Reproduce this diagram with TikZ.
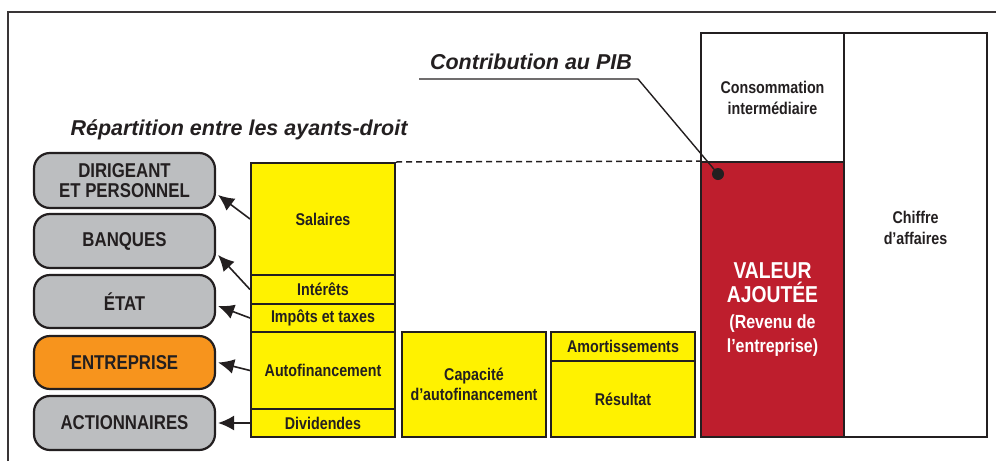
\documentclass[tikz,border=0pt]{standalone}
\usepackage{fontspec}
\setmainfont{Liberation Sans}
\newfontfamily\narrowsf{Liberation Sans}[FakeStretch=0.84]
\usetikzlibrary{arrows.meta}

\definecolor{vaRed}{HTML}{BE1E2D}
\definecolor{entOrange}{HTML}{F7941D}
\definecolor{boxGray}{HTML}{BCBEC0}
\definecolor{boxYellow}{HTML}{FFF200}
\definecolor{inkDark}{HTML}{231F20}

\begin{document}
\begin{tikzpicture}[x=1pt,y=-1pt,
  ayant/.style={draw=inkDark,line width=2.2pt,rounded corners=16pt,fill=boxGray,
    minimum width=181pt,minimum height=54pt,inner sep=0pt,align=center,text=inkDark,
    font=\narrowsf\bfseries\fontsize{20}{20}\selectfont},
  part/.style={draw=inkDark,line width=2pt,fill=boxYellow,minimum width=144pt,
    inner sep=0pt,align=center,text=inkDark,font=\narrowsf\bfseries\fontsize{17}{20}\selectfont},
  col/.style={draw=inkDark,line width=2pt,minimum width=143pt,inner sep=0pt,
    align=center,text=inkDark,font=\narrowsf\bfseries\fontsize{17}{21}\selectfont},
  flow/.style={draw=inkDark,line width=1.6pt,-{Latex[length=16pt,width=15pt]}},
  titre/.style={text=inkDark,font=\bfseries\itshape\fontsize{21.5}{21}\selectfont}]

  \useasboundingbox (0,0) rectangle (996,461);
  \draw[draw=inkDark!90,line width=2pt] (8,461) -- (8,12) -- (996,12);

  % Ayants-droit

  \node[titre] (repart) at (239,130) {Répartition entre les ayants-droit};

  \node[ayant,minimum height=55pt] (dirigeant) at (124.5,180.5) {DIRIGEANT\\ET PERSONNEL};
  \node[ayant] (banques) at (124.5,241) {BANQUES};
  \node[ayant,minimum height=53pt] (etat) at (124.5,301.5) {ÉTAT};
  \node[ayant,minimum height=53pt,fill=entOrange] (entreprise) at (124.5,362.5) {ENTREPRISE};
  \node[ayant] (actionnaires) at (124.5,423) {ACTIONNAIRES};

  % Repartition de la valeur ajoutee

  \node[part,minimum height=112pt] (salaires) at (323,219) {Salaires};
  \node[part,minimum height=29pt] (interets) at (323,289.5) {Intérêts};
  \node[part,minimum height=28pt] (impots) at (323,318) {Impôts et taxes};
  \node[part,minimum height=77pt] (autofin) at (323,370.5) {Autofinancement};
  \node[part,minimum height=28pt] (dividendes) at (323,423) {Dividendes};

  \draw[flow] (salaires.west) to ([shift={(2,14.5)}]dirigeant.east);
  \draw[flow] (interets.west) to ([shift={(2,14)}]banques.east);
  \draw[flow] (impots.west) to ([shift={(2,4.5)}]etat.east);
  \draw[flow] (autofin.west) to ([shift={(2,0)}]entreprise.east);
  \draw[flow] (dividendes.west) to ([shift={(2,0)}]actionnaires.east);

  \node[part,minimum height=105pt] (caf) at (474,384.5) {Capacité\\d’autofinancement};

  \node[part,minimum height=29pt] (amort) at (623,346.5) {Amortissements};
  \node[part,minimum height=76pt] (resultat) at (623,399) {Résultat};

  % Chiffre d'affaires

  \node[col,minimum height=404pt] (ca) at (915.5,235) {Chiffre\\d’affaires\\[-7pt]};
  \node[col,minimum height=129pt] (ci) at (772.5,97.5) {Consommation\\intermédiaire};
  \node[col,minimum height=275pt,fill=vaRed,text=white,font=\narrowsf\bfseries\fontsize{23}{24}\selectfont] (va) at (772.5,299.5)
    {\rule{0pt}{36pt}VALEUR\\AJOUTÉE\\[2pt]\fontsize{19}{22}\selectfont(Revenu de\\\fontsize{19}{22}\selectfont l’entreprise)};

  \draw[draw=inkDark,line width=1.5pt,dash pattern=on 6pt off 4pt] (salaires.north east) to (va.north west);

  % PIB

  \node[titre] (pib) at (531,62) {Contribution au PIB};
  \coordinate (pibA) at (419,79);
  \coordinate (pibB) at (638,79);
  \node[circle,fill=inkDark,inner sep=0pt,minimum size=12pt] (dot) at (718,174) {};
  \draw[draw=inkDark,line width=1.4pt] (pibA) -- (pibB) -- (dot.center);

\end{tikzpicture}
\end{document}
